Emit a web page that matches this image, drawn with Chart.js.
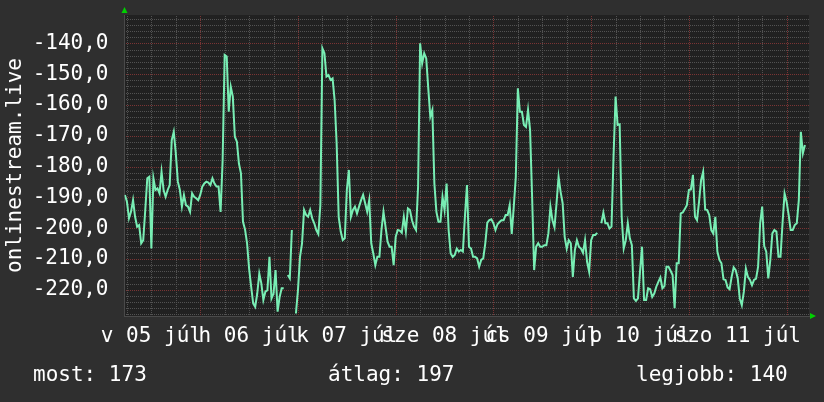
<!DOCTYPE html>
<html>
<head>
<meta charset="utf-8">
<script src="https://cdn.jsdelivr.net/npm/chart.js@4.4.1/dist/chart.umd.min.js"></script>
<style>
  html, body { margin: 0; padding: 0; background: #2f2f2f; }
  #wrap { width: 824px; height: 402px; }
</style>
</head>
<body>
<div id="wrap"><canvas id="rankChart" width="824" height="402"></canvas></div>
<script>
// onlinestream.live - weekly rank (negated so that higher is better)

// time axis: hours counted from 05 júl 00:00, one sample every half hour
const startHour = 5.5;
const stepHours = 0.5;

// day labels, drawn at noon of each day
const dayLabels = ['v 05 júl', 'h 06 júl', 'k 07 júl', 'sze 08 júl', 'cs 09 júl', 'p 10 júl', 'szo 11 júl'];

// summary line under the graph
const footerItems = [['most', 173], ['átlag', 197], ['legjobb', 140]];

// rank values (null = no data)
const rankValues = [
  -189.2, -191.4, -196.8, -194.7, -190.9, -196.3, -199.5, -199.0, -204.9, -203.9,
  -194.1, -183.8, -183.3, -206.6, -183.8, -187.6, -187.1, -188.7, -181.7, -187.6,
  -189.8, -187.6, -186.0, -171.4, -168.7, -175.7, -184.9, -187.6, -193.0, -189.2,
  -192.5, -193.0, -194.7, -188.7, -189.8, -190.3, -190.9, -189.2, -186.5, -185.5,
  -184.9, -185.2, -186.0, -183.8, -185.5, -186.5, -186.5, -194.7, -177.9, -143.8,
  -144.3, -162.2, -154.1, -157.3, -170.3, -171.9, -179.0, -182.2, -197.9, -200.4,
  -204.9, -213.1, -219.0, -224.4, -225.5, -221.2, -214.7, -217.9, -223.3, -220.6,
  -220.1, -209.3, -222.8, -221.2, -213.6, -227.1, -222.3, -219.5, -219.5, null,
  -215.2, -216.3, -200.6, null, -227.7, -220.1, -209.3, -204.9, -194.1, -195.7,
  -196.3, -194.1, -196.8, -198.4, -200.6, -201.9, -192.5, -141.6, -143.2, -150.8,
  -150.3, -151.9, -151.4, -158.4, -172.5, -196.3, -201.1, -203.9, -203.3, -187.6,
  -181.1, -196.3, -194.1, -193.0, -195.2, -193.0, -190.9, -189.2, -191.9, -194.7,
  -190.9, -204.9, -208.2, -212.0, -209.3, -209.3, -200.6, -194.7, -199.5, -204.4,
  -206.0, -206.0, -212.0, -202.8, -200.6, -200.8, -201.5, -196.3, -201.1, -193.6,
  -194.1, -197.4, -199.5, -200.6, -186.5, -140.0, -146.5, -143.2, -144.9, -154.6,
  -163.8, -161.6, -185.5, -194.7, -197.9, -197.9, -189.8, -194.1, -185.5, -200.6,
  -208.2, -209.3, -208.7, -206.6, -207.6, -207.1, -207.6, -196.3, -186.0, -206.0,
  -206.6, -209.3, -209.3, -209.8, -212.5, -210.3, -209.8, -204.9, -198.2, -197.4,
  -197.1, -198.4, -200.6, -198.7, -198.0, -197.4, -197.4, -195.7, -195.7, -192.5,
  -201.9, -193.0, -183.3, -154.6, -162.2, -162.2, -166.5, -167.1, -161.6, -168.1,
  -189.8, -213.6, -206.0, -204.9, -206.0, -206.0, -205.5, -205.5, -201.7, -193.0,
  -197.4, -199.7, -191.9, -183.3, -188.2, -191.9, -202.8, -206.6, -203.9, -204.9,
  -215.8, -207.1, -203.9, -206.0, -206.6, -208.0, -203.9, -210.9, -214.1, -203.9,
  -202.2, -202.2, -201.5, null, -198.4, -195.0, -198.4, -198.4, -200.1, -199.5,
  -176.8, -157.3, -166.5, -166.3, -196.3, -206.6, -203.9, -198.4, -203.3, -205.5,
  -222.8, -223.6, -222.8, -214.1, -206.0, -223.3, -223.3, -219.5, -219.8, -222.3,
  -221.2, -219.0, -217.4, -216.0, -219.5, -218.8, -212.5, -212.5, -213.8, -215.2,
  -226.0, -211.4, -211.4, -195.2, -194.9, -193.8, -192.5, -187.6, -187.4, -182.7,
  -196.3, -197.4, -191.4, -184.4, -181.7, -193.9, -194.1, -195.7, -200.6, -201.7,
  -196.3, -207.6, -210.3, -211.4, -216.6, -216.8, -219.2, -219.8, -215.8, -212.7,
  -213.6, -216.3, -222.8, -225.0, -220.6, -213.1, -215.8, -216.8, -218.5, -216.8,
  -216.4, -212.5, -198.4, -193.0, -205.8, -207.6, -216.3, -210.3, -201.7, -200.6,
  -201.1, -209.3, -209.3, -198.4, -188.7, -191.4, -195.7, -200.6, -200.6, -199.0,
  -198.4, -190.9, -168.7, -175.7, -173.0
];

const points = rankValues.map((v, i) => ({ x: startHour + i * stepHours, y: v }));

const textColor = '#ffffff';
const minorGrid = '#525252';
const majorGrid = '#7a3434';
const monoFont = { family: '"DejaVu Sans Mono", monospace', size: 21 };

// rrdtool like background, dotted grid, arrows and the summary line
const rrdPlugin = {
  id: 'rrdLook',
  beforeDraw(chart) {
    const { ctx, chartArea: a } = chart;
    ctx.save();
    ctx.fillStyle = '#2f2f2f';
    ctx.fillRect(0, 0, chart.width, chart.height);
    ctx.fillStyle = '#212121';
    ctx.fillRect(a.left, a.top, a.right - a.left, a.bottom - a.top);
    ctx.restore();
  },
  beforeDatasetsDraw(chart) {
    const { ctx, chartArea: a, scales } = chart;
    const left = Math.ceil(a.left / 2) * 2, right = Math.round(a.right);
    const top = Math.ceil(a.top / 2) * 2, bottom = Math.round(a.bottom);
    ctx.save();
    // minor lines first, major lines on top; one pixel dots on even pixels
    [false, true].forEach(major => {
      ctx.fillStyle = major ? majorGrid : minorGrid;
      scales.y.ticks.forEach(t => {
        if ((t.value % 10 === 0) !== major) return;
        const y = Math.round(scales.y.getPixelForValue(t.value));
        for (let x = left; x < right; x += 2) ctx.fillRect(x, y, 1, 1);
      });
      scales.x.ticks.forEach(t => {
        if ((t.value % 24 === 0) !== major) return;
        const x = Math.round(scales.x.getPixelForValue(t.value));
        for (let y = top; y < bottom; y += 2) ctx.fillRect(x, y, 1, 1);
      });
    });
    ctx.restore();
  },
  afterDraw(chart) {
    const { ctx, chartArea: a } = chart;
    ctx.save();
    // axis arrows
    ctx.fillStyle = '#00d000';
    ctx.beginPath();
    ctx.moveTo(a.left - 3, a.top - 2);
    ctx.lineTo(a.left + 3, a.top - 2);
    ctx.lineTo(a.left, a.top - 8);
    ctx.closePath();
    ctx.fill();
    ctx.beginPath();
    ctx.moveTo(a.right + 1, a.bottom - 3);
    ctx.lineTo(a.right + 1, a.bottom + 3);
    ctx.lineTo(a.right + 7, a.bottom);
    ctx.closePath();
    ctx.fill();

    // summary line
    ctx.fillStyle = textColor;
    ctx.font = monoFont.size + 'px ' + monoFont.family;
    ctx.textBaseline = 'alphabetic';
    const xs = [33, 328, 636];
    footerItems.forEach((item, i) => {
      ctx.fillText(item[0] + ': ' + item[1], xs[i], 381);
    });
    ctx.restore();
  }
};

new Chart(document.getElementById('rankChart'), {
  type: 'line',
  data: {
    datasets: [{
      data: points,
      borderColor: '#78eeb4',
      borderWidth: 2,
      pointRadius: 0,
      tension: 0,
      spanGaps: false
    }]
  },
  options: {
    responsive: false,
    animation: false,
    layout: { padding: { left: 0, right: 15, top: 15, bottom: 46 } },
    plugins: {
      legend: { display: false },
      tooltip: { enabled: false }
    },
    scales: {
      x: {
        type: 'linear',
        min: 5.4,
        max: 173.5,
        afterBuildTicks: axis => {
          const ticks = [];
          for (let h = 6; h <= 168; h += 6) ticks.push({ value: h });
          axis.ticks = ticks;
        },
        afterFit: scale => {
          scale.height = 40;
          scale.paddingLeft = 0;
          scale.paddingRight = 0;
        },
        grid: { drawOnChartArea: false, drawTicks: false },
        border: { display: true, color: '#4a4a4a' },
        ticks: {
          autoSkip: false,
          maxRotation: 0,
          minRotation: 0,
          padding: 8,
          color: textColor,
          font: monoFont,
          callback: v => (v % 24 === 12 ? dayLabels[(v - 12) / 24] || '' : '')
        }
      },
      y: {
        min: -228.5,
        max: -130.8,
        afterBuildTicks: axis => {
          const ticks = [];
          for (let v = -228; v <= -132; v += 2) ticks.push({ value: v });
          axis.ticks = ticks;
        },
        afterFit: scale => {
          scale.width = 124.5;
          scale.paddingTop = 0;
          scale.paddingBottom = 0;
        },
        grid: { drawOnChartArea: false, drawTicks: false },
        border: { display: true, color: '#4a4a4a' },
        title: {
          display: true,
          text: 'onlinestream.live',
          color: textColor,
          font: monoFont,
          padding: { top: 3, bottom: 0 }
        },
        ticks: {
          autoSkip: false,
          padding: 16,
          color: textColor,
          font: monoFont,
          callback: v => (v % 10 === 0 ? v.toFixed(1).replace('.', ',') : '')
        }
      }
    }
  },
  plugins: [rrdPlugin]
});
</script>
</body>
</html>
